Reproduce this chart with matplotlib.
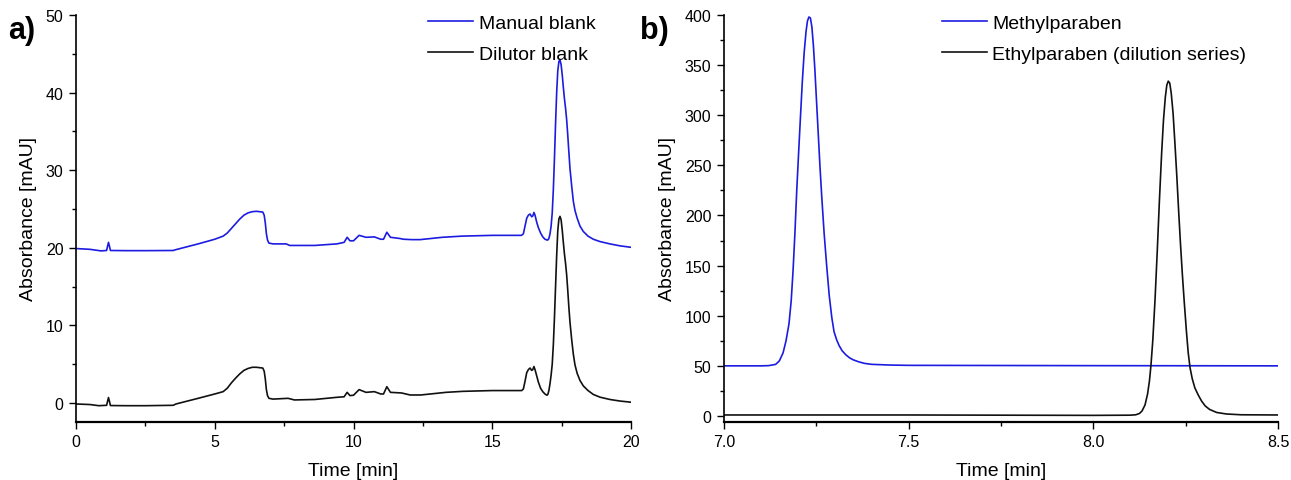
import matplotlib
matplotlib.use("Agg")
import matplotlib.pyplot as plt
from matplotlib.ticker import MultipleLocator, FormatStrFormatter

plt.rcParams['font.family'] = ['Liberation Sans', 'DejaVu Sans']

# a) blank chromatograms, 0-20 min
t_manual = [0.0, 0.5, 0.9, 1.1, 1.17, 1.24, 1.8, 2.5, 3.5, 3.6, 4.4, 5.0, 5.3, 5.45, 5.6, 5.75,
            5.9, 6.05, 6.2, 6.35, 6.5, 6.73, 6.78, 6.82, 6.86, 6.9, 6.95, 7.1, 7.57, 7.7, 8.6,
            9.4, 9.66, 9.77, 9.87, 10.0, 10.2, 10.45, 10.75, 10.98, 11.08, 11.2, 11.33, 11.66,
            11.8, 12.1, 12.4, 13.2, 13.9, 15.0, 16.05, 16.12, 16.18, 16.24, 16.3, 16.36, 16.42,
            16.46, 16.5, 16.54, 16.6, 16.66, 16.74, 16.82, 16.9, 16.97, 17.0, 17.04, 17.08,
            17.12, 17.16, 17.2, 17.24, 17.28, 17.32, 17.36, 17.4, 17.44, 17.48, 17.52, 17.56,
            17.6, 17.64, 17.68, 17.72, 17.76, 17.8, 17.86, 17.92, 17.98, 18.06, 18.16, 18.28,
            18.45, 18.64, 18.88, 19.24, 19.6, 20.0]
y_manual = [19.9, 19.8, 19.6, 19.65, 20.7, 19.65, 19.63, 19.63, 19.65, 19.76, 20.5, 21.1, 21.5,
            21.9, 22.5, 23.1, 23.7, 24.2, 24.5, 24.65, 24.7, 24.6, 24.2, 23.2, 21.8, 21.0, 20.6,
            20.5, 20.5, 20.3, 20.3, 20.5, 20.7, 21.35, 20.9, 20.9, 21.6, 21.35, 21.4, 21.1, 21.1,
            22.0, 21.35, 21.2, 21.1, 21.05, 21.05, 21.35, 21.5, 21.6, 21.6, 21.8, 22.8, 23.8,
            24.2, 24.35, 24.0, 24.1, 24.55, 24.2, 23.3, 22.6, 21.9, 21.4, 21.1, 21.0, 21.0, 21.2,
            21.8, 22.8, 24.5, 27.5, 31.5, 36.0, 40.0, 42.8, 44.0, 44.2, 43.6, 42.3, 40.7, 39.2,
            38.0, 36.5, 34.5, 32.3, 30.2, 28.0, 26.0, 24.8, 23.8, 22.8, 22.1, 21.5, 21.1, 20.8,
            20.5, 20.25, 20.06]

t_dilutor = [0.0, 0.5, 0.82, 1.1, 1.17, 1.24, 1.8, 2.5, 3.5, 3.6, 4.4, 5.0, 5.3, 5.45, 5.6, 5.75,
             5.9, 6.05, 6.2, 6.35, 6.5, 6.73, 6.78, 6.82, 6.86, 6.9, 6.95, 7.1, 7.64, 7.87, 8.6,
             9.4, 9.66, 9.77, 9.87, 10.0, 10.2, 10.45, 10.75, 10.98, 11.08, 11.2, 11.33, 11.73,
             12.04, 12.42, 13.33, 13.94, 15.0, 16.06, 16.12, 16.18, 16.24, 16.3, 16.36, 16.42,
             16.46, 16.5, 16.54, 16.6, 16.66, 16.74, 16.82, 16.9, 16.97, 17.0, 17.04, 17.08,
             17.12, 17.16, 17.2, 17.24, 17.28, 17.32, 17.36, 17.4, 17.44, 17.48, 17.52, 17.56,
             17.6, 17.64, 17.68, 17.72, 17.76, 17.8, 17.86, 17.92, 17.98, 18.06, 18.16, 18.28,
             18.45, 18.64, 18.88, 19.24, 19.6, 20.0]
y_dilutor = [-0.13, -0.2, -0.35, -0.3, 0.7, -0.33, -0.35, -0.35, -0.3, -0.13, 0.6, 1.16, 1.46,
             1.9, 2.6, 3.2, 3.75, 4.2, 4.45, 4.6, 4.6, 4.5, 4.1, 3.1, 1.7, 0.95, 0.6, 0.5, 0.6,
             0.39, 0.45, 0.73, 0.8, 1.37, 0.95, 1.0, 1.72, 1.37, 1.46, 1.16, 1.16, 2.1, 1.37,
             1.29, 1.03, 1.03, 1.37, 1.5, 1.6, 1.6, 1.8, 2.8, 3.9, 4.3, 4.5, 4.2, 4.3, 4.7, 4.3,
             3.5, 2.7, 1.9, 1.45, 1.15, 1.0, 1.1, 1.6, 2.5, 3.6, 5.0, 7.5, 11.0, 15.0, 19.0, 22.2,
             23.7, 24.05, 23.6, 22.3, 20.7, 19.2, 18.0, 16.5, 14.5, 12.3, 10.4, 8.2, 6.3, 4.9,
             3.8, 2.9, 2.2, 1.6, 1.1, 0.75, 0.45, 0.25, 0.1]

# b) paraben peaks, 7.0-8.5 min
t_methyl = [7.0, 7.10, 7.12, 7.13, 7.14, 7.15, 7.16, 7.168, 7.176, 7.182, 7.187, 7.192, 7.197,
            7.202, 7.207, 7.212, 7.217, 7.222, 7.226, 7.230, 7.234, 7.238, 7.242, 7.246, 7.250,
            7.255, 7.260, 7.265, 7.271, 7.278, 7.285, 7.292, 7.298, 7.305, 7.312, 7.320, 7.330,
            7.340, 7.350, 7.365, 7.38, 7.40, 7.45, 7.50, 8.0, 8.5]
y_methyl = [50, 50, 50.2, 50.8, 51.5, 55, 63, 75, 92, 115, 145, 182, 225, 262, 298, 333, 362,
            383, 394, 398, 397, 388, 370, 346, 318, 283, 248, 217, 183, 150, 120, 98, 84, 76,
            70, 65, 61, 58, 56, 54, 52.5, 51.5, 50.8, 50.5, 50.2, 50]

t_ethyl = [7.0, 7.5, 8.0, 8.10, 8.115, 8.125, 8.132, 8.140, 8.147, 8.152, 8.156, 8.161, 8.167,
           8.173, 8.179, 8.185, 8.190, 8.195, 8.199, 8.203, 8.207, 8.211, 8.216, 8.221, 8.226,
           8.231, 8.236, 8.241, 8.246, 8.252, 8.257, 8.262, 8.268, 8.275, 8.284, 8.293, 8.303,
           8.315, 8.334, 8.36, 8.40, 8.5]
y_ethyl = [1.0, 1.0, 0.6, 0.8, 1.2, 2.5, 5, 11, 22, 35, 50, 75, 115, 163, 215, 262, 295, 318,
           330, 334, 332, 322, 302, 272, 240, 205, 172, 142, 115, 85, 63, 48, 37, 28, 21, 15,
           10, 6.5, 3.5, 2, 1.2, 1.0]

blue = '#1c1ce0'
black = '#111111'

fig = plt.figure(figsize=(12.91, 4.81), dpi=100)
ax1 = fig.add_axes([0.0589, 0.1206, 0.4299, 0.8462])
ax2 = fig.add_axes([0.5608, 0.1206, 0.4291, 0.8462])

ax1.plot(t_manual, y_manual, color=blue, lw=1.2, label='Manual blank')
ax1.plot(t_dilutor, y_dilutor, color=black, lw=1.2, label='Dilutor blank')
ax1.set_xlim(0, 20)
ax1.set_ylim(-2.45, 50)
ax1.xaxis.set_major_locator(MultipleLocator(5))
ax1.xaxis.set_minor_locator(MultipleLocator(2.5))
ax1.yaxis.set_major_locator(MultipleLocator(10))
ax1.yaxis.set_minor_locator(MultipleLocator(5))

ax2.plot(t_methyl, y_methyl, color=blue, lw=1.2, label='Methylparaben')
ax2.plot(t_ethyl, y_ethyl, color=black, lw=1.2, label='Ethylparaben (dilution series)')
ax2.set_xlim(7.0, 8.5)
ax2.set_ylim(-6, 400)
ax2.xaxis.set_major_locator(MultipleLocator(0.5))
ax2.xaxis.set_minor_locator(MultipleLocator(0.25))
ax2.yaxis.set_major_locator(MultipleLocator(50))
ax2.yaxis.set_minor_locator(MultipleLocator(25))
ax2.xaxis.set_major_formatter(FormatStrFormatter('%.1f'))

legend_x = {ax1: 0.957, ax2: 0.964}
for ax in (ax1, ax2):
    ax.spines['top'].set_visible(False)
    ax.spines['right'].set_visible(False)
    ax.spines['left'].set_linewidth(1.2)
    ax.spines['bottom'].set_linewidth(1.6)
    ax.tick_params(which='major', direction='out', length=5, width=1, labelsize=11.5, pad=4)
    ax.tick_params(which='minor', direction='out', length=3, width=1)
    ax.set_xlabel('Time [min]', fontsize=14, labelpad=9)
    ax.set_ylabel('Absorbance [mAU]', fontsize=14, labelpad=6)
    ax.legend(loc='upper right', bbox_to_anchor=(legend_x[ax], 1.03), frameon=False, fontsize=14,
              handlelength=2.3, handletextpad=0.3, labelspacing=0.7, borderaxespad=0.2)

fig.text(0.006, 0.935, 'a)', fontsize=22, fontweight='bold', va='center')
fig.text(0.496, 0.935, 'b)', fontsize=22, fontweight='bold', va='center')

fig.savefig('out.png', dpi=100)
